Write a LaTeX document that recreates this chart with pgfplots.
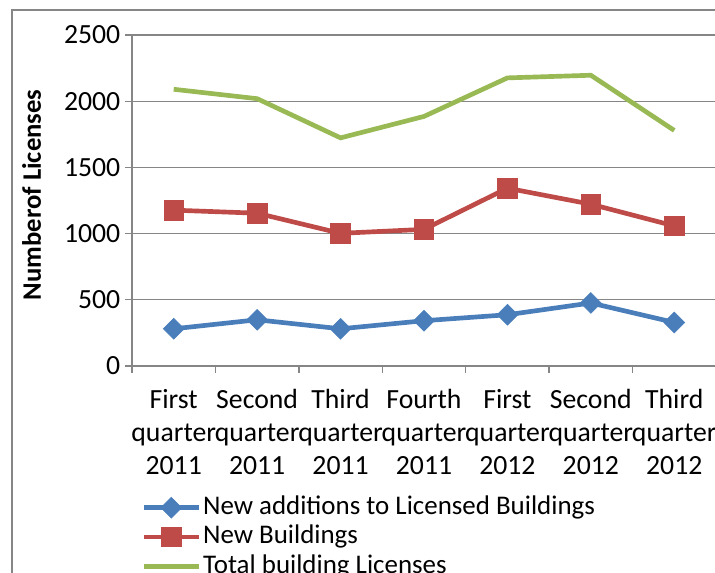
\documentclass[border=0pt]{standalone}
\usepackage{fontspec}
\setmainfont{Carlito}
\usepackage{pgfplots}
\pgfplotsset{compat=1.18}
\definecolor{cblue}{RGB}{74,126,187}
\definecolor{cred}{RGB}{190,75,72}
\definecolor{cgreen}{RGB}{152,185,84}
\definecolor{cgrid}{RGB}{134,134,134}
\begin{document}
\begin{tikzpicture}[x=0.75pt,y=0.75pt]
\draw[cgrid, line width=1pt] (-120,-300) -- (-120,356) -- (800,356);
\begin{axis}[
  at={(0,0)}, anchor=south west,
  scale only axis, width=438pt, height=248.25pt,
  xmin=-0.5, xmax=6.5, ymin=0, ymax=2500,
  axis lines=left, axis line style={-, cgrid, line width=1pt},
  ytick={0,500,...,2500},
  xtick={0,...,6},
  xticklabels={{First\\quarter\\2011},{Second\\quarter\\2011},{Third\\quarter\\2011},{Fourth\\quarter\\2011},{First\\quarter\\2012},{Second\\quarter\\2012},{Third\\quarter\\2012}},
  minor xtick={-0.5,0.5,...,6.5},
  tick align=outside,
  major tick length=5.25pt, minor tick length=5.25pt,
  every major x tick/.append style={draw=none},
  tick style={cgrid, line width=1pt},
  ymajorgrids, major grid style={cgrid, line width=1pt},
  scaled y ticks=false,
  /pgf/number format/1000 sep={},
  /pgf/number format/assume math mode=true,
  ticklabel style={font=\fontsize{20.8}{24.75}\selectfont},
  xticklabel style={align=center, yshift=-9pt},
  ylabel={\bfseries Numberof Licenses},
  every axis y label/.style={at={(axis description cs:-0.172,0.517)}, rotate=90, anchor=center, font=\fontsize{20}{24}\selectfont},
  legend style={at={(axis description cs:0.009,-0.375)}, anchor=north west, draw=none, fill=none,
    font=\fontsize{20.2}{24}\selectfont, legend cell align=left,
    nodes={inner sep=1.5pt, text height=14.5pt, text depth=4.5pt}},
  legend image code/.code={\draw[mark repeat=2,mark phase=2,#1] plot coordinates {(0pt,0pt) (20.6pt,0pt) (41.2pt,0pt)};},
  every axis plot/.append style={line width=3.5pt},
]
\addplot[cblue, mark=square*, mark size=5.5pt, mark options={rotate=45, line width=0.5pt}] coordinates {
(0,281) (1,349) (2,281) (3,342) (4,387) (5,476) (6,329)};
\addlegendentry{New additions to Licensed Buildings}
\addplot[cred, mark=square*, mark size=7.3pt, mark options={line width=0.5pt}] coordinates {
(0,1177) (1,1154) (2,1002) (3,1032) (4,1343) (5,1222) (6,1058)};
\addlegendentry{New Buildings}
\addplot[cgreen, no marks] coordinates {
(0,2090) (1,2019) (2,1723) (3,1885) (4,2176) (5,2196) (6,1779)};
\addlegendentry{Total building Licenses}
\end{axis}
\pgfresetboundingbox
\useasboundingbox (-132,-207) rectangle (583,366);
\end{tikzpicture}
\end{document}
